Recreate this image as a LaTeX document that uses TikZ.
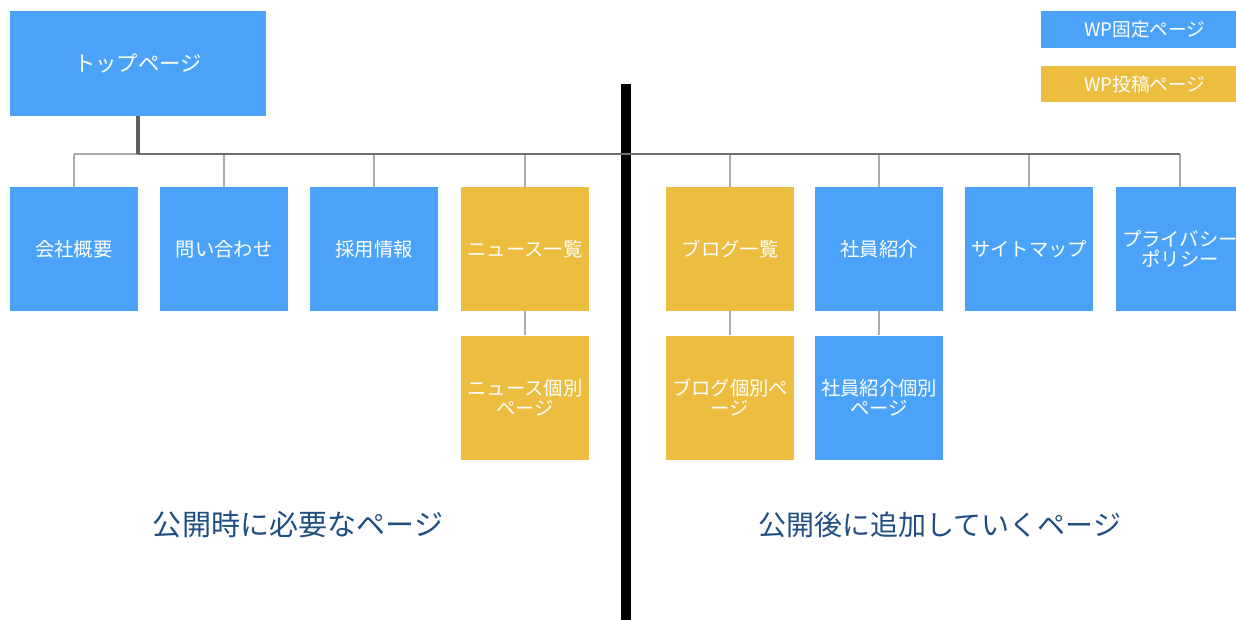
\documentclass[tikz,border=0pt]{standalone}
\usepackage{fontspec}
\setmainfont{Noto Sans CJK JP}
\definecolor{wpblue}{HTML}{4BA3F9}
\definecolor{wpyellow}{HTML}{EDBD40}
\definecolor{captionblue}{HTML}{1F4E82}
\definecolor{trunkgray}{HTML}{707070}
\definecolor{dropgray}{HTML}{ABABAB}
\begin{document}
\begin{tikzpicture}[x=0.75pt,y=-0.75pt,
  pagebox/.style={rectangle, inner sep=0pt, minimum width=96pt, minimum height=93pt,
    text=white, font=\fontsize{14.5pt}{15pt}\selectfont, align=center},
  fixedpage/.style={pagebox, fill=wpblue},
  postpage/.style={pagebox, fill=wpyellow},
  legendbox/.style={rectangle, inner sep=0pt, minimum width=156pt, minimum height=27.5pt,
    text=white, font=\fontsize{14pt}{15pt}\selectfont},
  trunk/.style={draw=trunkgray, line width=2.2pt},
  stub/.style={draw=trunkgray!85!black, line width=3pt},
  drop/.style={draw=dropgray, line width=1.6pt},
  caption/.style={text=captionblue, font=\fontsize{21.8pt}{23pt}\selectfont, inner sep=0pt}
]
\fill[white] (0,0) rectangle (1236,619);
\useasboundingbox (0,0) rectangle (1236,619);
\clip (0,0) rectangle (1236,619);

% divider
\coordinate (divtop) at (626,84);
\coordinate (divbot) at (626,625);
\draw[black, line width=7.5pt] (divtop) -- (divbot);

% top page
\node[fixedpage, minimum width=192pt, minimum height=78.75pt, font=\fontsize{16pt}{17pt}\selectfont] (top) at (138,63.5) {トップページ};

% legend
\node[legendbox, fill=wpblue] (legfixed) at (1145,29.5) {WP固定ページ};
\node[legendbox, fill=wpyellow] (legpost) at (1145,84) {WP投稿ページ};

% first row
\node[fixedpage] (c1) at (74,249) {会社概要};
\node[fixedpage] (c2) at (224,249) {問い合わせ};
\node[fixedpage] (c3) at (374,249) {採用情報};
\node[postpage]  (c4) at (525,249) {ニュース一覧};
\node[postpage]  (c5) at (730,249) {ブログ一覧};
\node[fixedpage] (c6) at (879,249) {社員紹介};
\node[fixedpage] (c7) at (1029,249) {サイトマップ};
\node[fixedpage] (c8) at (1180,249) {プライバシー\\ポリシー};

% second row
\node[postpage]  (d4) at (525,397.5) {ニュース個別\\ページ};
\node[postpage]  (d5) at (730,397.5) {ブログ個別ペ\\ージ};
\node[fixedpage] (d6) at (879,397.5) {社員紹介個別\\ページ};

% connectors
\coordinate (hub) at (138,154);
\foreach \n in {c1,c2,c3,c4,c5,c6,c7,c8}{
  \draw[drop] (\n.north) -- (\n.north |- hub);
}
\draw[drop, line width=1.8pt] (c1.north |- hub) -- (hub);
\draw[trunk] (hub) -- (c8.north |- hub);
\draw[stub] (top.south) -- (hub);

\draw[drop] (c4.south) -- (d4.north);
\draw[drop] (c5.south) -- (d5.north);
\draw[drop] (c6.south) -- (d6.north);

% captions
\node[caption] (capleft) at (298,525) {公開時に必要なページ};
\node[caption, font=\fontsize{21pt}{23pt}\selectfont] (capright) at (940,525) {公開後に追加していくページ};
\end{tikzpicture}
\end{document}
